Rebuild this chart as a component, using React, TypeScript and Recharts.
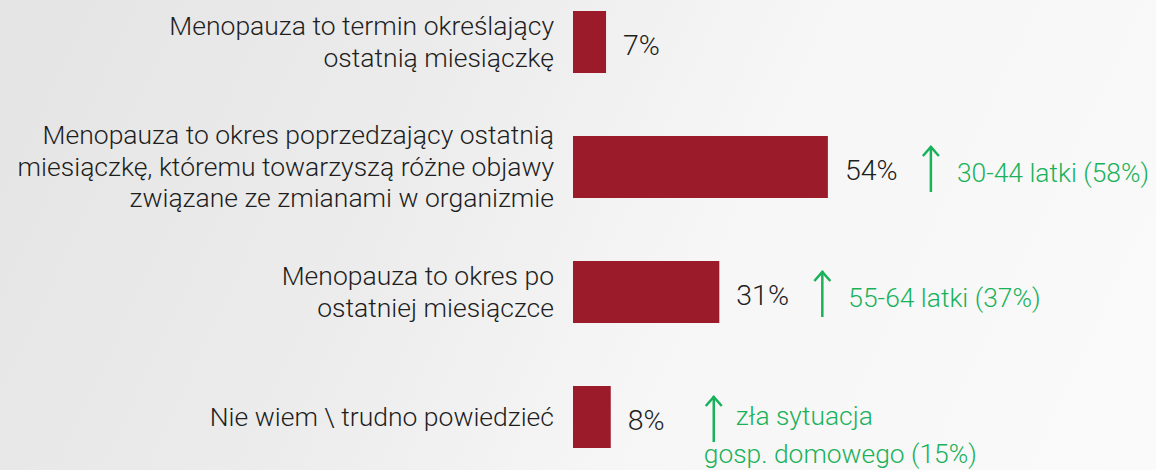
import { BarChart, Bar, XAxis, YAxis, LabelList } from 'recharts';

const categories = [
  ['Menopauza to termin określający', 'ostatnią miesiączkę'],
  [
    'Menopauza to okres poprzedzający ostatnią',
    'miesiączkę, któremu towarzyszą różne objawy',
    'związane ze zmianami w organizmie',
  ],
  ['Menopauza to okres po', 'ostatniej miesiączce'],
  ['Nie wiem \\ trudno powiedzieć'],
];

const values = [7, 54, 31, 8];

const notes: string[][] = [
  [],
  ['30-44 latki (58%)'],
  ['55-64 latki (37%)'],
  ['zła sytuacja', 'gosp. domowego (15%)'],
];

const BAR = '#9b1b2b';
const GREEN = '#19b25a';
const FONT = '"Roboto Light", Roboto, "Noto Sans", sans-serif';

const data = categories.map((lines, i) => ({
  name: lines.join(' '),
  lines,
  value: values[i],
  note: notes[i],
}));

function CategoryTick(props: any) {
  const { x, y, payload } = props;
  const lines = categories[payload.index] || [];
  const lh = 31.5;
  const start = -((lines.length - 1) * lh) / 2;
  return (
    <text
      x={x}
      y={y}
      textAnchor="end"
      fill="#1e1e1e"
      fontFamily={FONT}
      fontWeight={300}
      fontSize={26.5}
    >
      {lines.map((l, i) => (
        <tspan key={i} x={x} y={y + start + i * lh} dy="0.35em">
          {l}
        </tspan>
      ))}
    </text>
  );
}

function ValueLabel(props: any) {
  const { x, y, width, height, value, index } = props;
  const end = x + width;
  const cy = y + height / 2;
  const note = notes[index] || [];
  const ax = end + 103;
  const top = y + 10;
  const bottom = y + height - 6;
  return (
    <g fontFamily={FONT} fontWeight={300}>
      <text x={end + 17} y={cy + 3} dy="0.35em" fontSize={28.5} fill="#1e1e1e">
        {`${value}%`}
      </text>
      {note.length > 0 && (
        <g>
          <line x1={ax} y1={top} x2={ax} y2={bottom} stroke={GREEN} strokeWidth={2.5} />
          <polyline
            points={`${ax - 8},${top + 10} ${ax},${top + 1} ${ax + 8},${top + 10}`}
            fill="none"
            stroke={GREEN}
            strokeWidth={2.5}
          />
          {note.length === 1 ? (
            <text x={ax + 26} y={cy + 6} dy="0.35em" fontSize={26.4} fill={GREEN}>
              {note[0]}
            </text>
          ) : (
            <g>
              <text x={ax + 22} y={cy - 1} dy="0.35em" fontSize={26.4} fill={GREEN}>
                {note[0]}
              </text>
              <text x={ax - 10} y={cy + 37} dy="0.35em" fontSize={26.4} fill={GREEN}>
                {note[1]}
              </text>
            </g>
          )}
        </g>
      )}
    </g>
  );
}

export default function App() {
  return (
    <div
      style={{
        position: 'absolute',
        left: 0,
        top: 0,
        width: 1156,
        height: 470,
        overflow: 'hidden',
        background:
          'linear-gradient(115deg, #e4e4e4 0%, #ececec 35%, #f6f6f6 60%, #fafafa 100%)',
      }}
    >
      <div style={{ position: 'absolute', left: 0, top: -21.5 }}>
        <BarChart
          width={1156}
          height={500}
          data={data}
          layout="vertical"
          margin={{ top: 0, right: 111, bottom: 0, left: 0 }}
          barCategoryGap={63}
        >
          <XAxis type="number" domain={[0, 100]} hide />
          <YAxis
            type="category"
            dataKey="name"
            width={573}
            axisLine={false}
            tickLine={false}
            tickMargin={13}
            tick={<CategoryTick />}
            interval={0}
          />
          <Bar dataKey="value" fill={BAR} barSize={62} isAnimationActive={false}>
            <LabelList dataKey="value" content={<ValueLabel />} />
          </Bar>
        </BarChart>
      </div>
    </div>
  );
}
